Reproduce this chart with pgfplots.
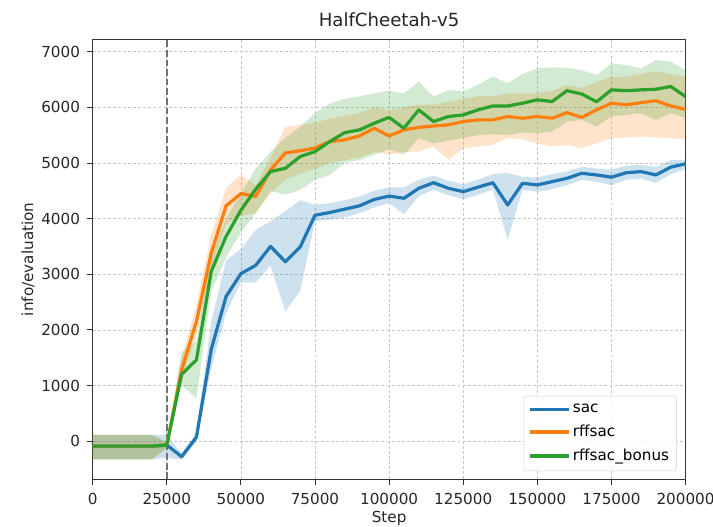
\documentclass[border=0pt]{standalone}
\usepackage{pgfplots}
\pgfplotsset{compat=1.18}
\usepackage{pgfplotstable}
\usepgfplotslibrary{fillbetween}
\usepackage{fontspec}
\setmainfont{DejaVu Sans}
\definecolor{cblue}{HTML}{1F77B4}
\definecolor{corange}{HTML}{FF7F0E}
\definecolor{cgreen}{HTML}{2CA02C}

\pgfplotstableread{
x mean lo hi
0 -90 -330 110
5000 -90 -330 110
10000 -90 -330 110
15000 -90 -330 110
20000 -90 -330 110
25000 -70 -300 110
30000 -280 -330 -220
35000 70 0 150
40000 1650 1300 2150
45000 2600 2300 3250
50000 3010 2850 3450
55000 3160 2850 3800
60000 3500 3150 3950
65000 3225 2330 4130
70000 3490 2700 4330
75000 4060 3950 4250
80000 4110 3980 4280
85000 4170 4020 4330
90000 4230 4100 4400
95000 4345 4200 4500
100000 4405 4280 4560
105000 4365 4080 4560
110000 4545 4400 4700
115000 4645 4520 4770
120000 4545 4420 4680
125000 4485 4350 4620
130000 4565 4430 4700
135000 4645 4520 4800
140000 4245 3625 4820
145000 4635 4520 4750
150000 4605 4480 4740
155000 4665 4530 4800
160000 4725 4600 4850
165000 4815 4700 4930
170000 4785 4660 4900
175000 4745 4600 4880
180000 4825 4700 4950
185000 4845 4720 4970
190000 4785 4640 4930
195000 4925 4800 5050
200000 4985 4880 5060
}\sac

\pgfplotstableread{
x mean lo hi
0 -90 -330 110
5000 -90 -330 110
10000 -90 -330 110
15000 -90 -330 110
20000 -90 -330 110
25000 -70 -120 -20
30000 1280 1100 1500
35000 2150 1900 2450
40000 3380 3100 3700
45000 4230 3900 4550
50000 4450 4050 4790
55000 4400 4100 4600
60000 4875 4450 5100
65000 5180 4700 5650
70000 5220 4800 5690
75000 5270 4900 5720
80000 5385 5000 5800
85000 5415 5050 5850
90000 5485 5100 5900
95000 5625 5200 6000
100000 5485 5150 5950
105000 5595 5200 6000
110000 5640 5205 6050
115000 5665 5295 6050
120000 5685 5055 6100
125000 5745 5265 6150
130000 5775 5295 6200
135000 5775 5325 6200
140000 5835 5445 6250
145000 5805 5425 6250
150000 5835 5350 6250
155000 5805 5295 6300
160000 5905 5325 6400
165000 5820 5265 6350
170000 5955 5355 6450
175000 6075 5445 6550
180000 6045 5460 6550
185000 6085 5475 6600
190000 6120 5460 6650
195000 6025 5445 6600
200000 5965 5425 6550
}\rff

\pgfplotstableread{
x mean lo hi
0 -90 -330 110
5000 -90 -330 110
10000 -90 -330 110
15000 -90 -330 110
20000 -90 -330 110
25000 -70 -120 -20
30000 1200 1000 1600
35000 1460 770 1800
40000 3050 2700 3350
45000 3680 3300 4000
50000 4150 3750 4450
55000 4530 4100 4900
60000 4845 4500 5200
65000 4905 4430 5450
70000 5115 4515 5650
75000 5205 4695 5900
80000 5385 4785 6070
85000 5545 5000 6150
90000 5595 5050 6200
95000 5715 5150 6250
100000 5820 5250 6300
105000 5625 5150 6250
110000 5955 5445 6465
115000 5745 5350 6195
120000 5835 5400 6315
125000 5865 5450 6285
130000 5955 5500 6405
135000 6025 5520 6555
140000 6025 5500 6435
145000 6075 5550 6600
150000 6135 5535 6700
155000 6105 5565 6720
160000 6300 5745 6710
165000 6240 5775 6670
170000 6100 5655 6580
175000 6315 5835 6790
180000 6300 5865 6760
185000 6315 5895 6700
190000 6325 5775 6850
195000 6375 5895 6820
200000 6195 5805 6670
}\bonus

\begin{document}
\fontsize{11.4pt}{13.7pt}\selectfont
\begin{tikzpicture}
\begin{axis}[
  scale only axis,
  width=444.6pt, height=329.8pt,
  xmin=0, xmax=200000, ymin=-683, ymax=7223,
  xtick={0,25000,50000,75000,100000,125000,150000,175000,200000},
  ytick={0,1000,2000,3000,4000,5000,6000,7000},
  scaled ticks=false,
  /pgf/number format/fixed,
  /pgf/number format/precision=0,
  /pgf/number format/set thousands separator={},
  /pgf/number format/assume math mode=true,
  tick align=outside, tick pos=left,
  major tick length=4.5pt,
  tick style={black!80, line width=0.7pt},
  axis line style={black!80, line width=0.8pt},
  grid=major,
  major grid style={gray!45, dash pattern=on 2.2pt off 1.6pt, line width=0.5pt},
  ticklabel style={font=\fontsize{11.4pt}{13.7pt}\selectfont, text=black!85},
  xticklabel style={yshift=-2pt},
  yticklabel style={xshift=-1pt},
  title={HalfCheetah-v5},
  title style={at={(axis description cs:0.5,1)}, anchor=center, yshift=8.5pt, font=\fontsize{13.6pt}{16pt}\selectfont, text=black!85},
  xlabel={Step},
  xlabel style={at={(axis description cs:0.5,0)}, anchor=center, yshift=-29.5pt, text=black!85},
  ylabel={info/evaluation},
  ylabel style={at={(axis description cs:0,0.5)}, anchor=center, yshift=48.5pt, text=black!85},
  legend style={at={(axis description cs:0.985,0.018)}, anchor=south east,
    draw=gray!35, rounded corners=2pt, fill=white, fill opacity=0.85, text opacity=1,
    font=\fontsize{11.4pt}{13.7pt}\selectfont, inner xsep=3.5pt, inner ysep=4pt, row sep=3.6pt},
  legend cell align=left,
  legend image code/.code={\draw[#1, line width=2.4pt] (0pt,0pt) -- (25.5pt,0pt); \path (0pt,0pt) -- (29pt,0pt);},
]
% bands
\addplot[draw=none, name path=sU, forget plot] table[x=x,y=hi]{\sac};
\addplot[draw=none, name path=sL, forget plot] table[x=x,y=lo]{\sac};
\addplot[cblue, fill opacity=0.22, forget plot] fill between[of=sU and sL];
\addplot[draw=none, name path=rU, forget plot] table[x=x,y=hi]{\rff};
\addplot[draw=none, name path=rL, forget plot] table[x=x,y=lo]{\rff};
\addplot[corange, fill opacity=0.22, forget plot] fill between[of=rU and rL];
\addplot[draw=none, name path=bU, forget plot] table[x=x,y=hi]{\bonus};
\addplot[draw=none, name path=bL, forget plot] table[x=x,y=lo]{\bonus};
\addplot[cgreen, fill opacity=0.22, forget plot] fill between[of=bU and bL];
% reference line
\addplot[gray!90!black, line width=1.4pt, dash pattern=on 5pt off 2.2pt, forget plot] coordinates {(25000,-683) (25000,7223)};
% means
\addplot[cblue, line width=2.4pt, line join=round] table[x=x,y=mean]{\sac};
\addlegendentry{sac}
\addplot[corange, line width=2.4pt, line join=round] table[x=x,y=mean]{\rff};
\addlegendentry{rffsac}
\addplot[cgreen, line width=2.4pt, line join=round] table[x=x,y=mean]{\bonus};
\addlegendentry{rffsac\_bonus}
\end{axis}
\pgfresetboundingbox
\path (current axis.south west) ++(-69.5pt,-35.25pt) coordinate (bbA);
\path (current axis.north east) ++(20.6pt,29.5pt) coordinate (bbB);
\useasboundingbox (bbA) rectangle (bbB);
\end{tikzpicture}
\end{document}
